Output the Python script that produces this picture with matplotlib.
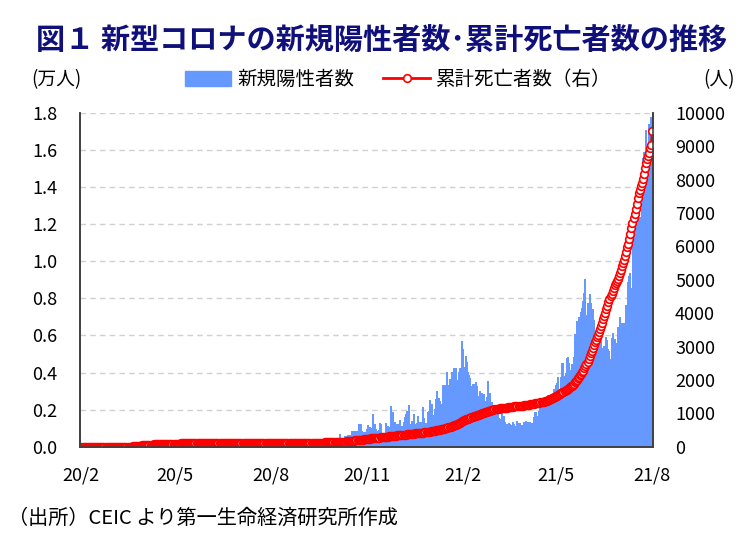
import numpy as np
import pandas as pd
import matplotlib
matplotlib.use('Agg')
import matplotlib.pyplot as plt
from matplotlib.patches import Patch
from matplotlib.lines import Line2D

plt.rcParams['font.family'] = ['Noto Sans CJK JP', 'DejaVu Sans']

# daily new positive cases (persons), one row per month, from 2020-02-01
cases_2020 = [
    0, 0, 0, 1, 2, 2, 0, 1, 2, 0, 0, 0, 0, 0, 0, 3, 0, 0, 0, 0, 0, 0, 0, 0, 0, 0, 0, 1, 2,
    4, 0, 7, 14, 5, 28, 0, 10, 18, 32, 20, 20, 41, 83, 190, 125, 120, 110, 130, 117, 153, 123, 212, 106, 172, 235, 130, 159, 150, 140, 142,
    142, 208, 217, 217, 179, 131, 170, 156, 109, 118, 184, 153, 134, 170, 85, 110, 69, 54, 84, 36, 57, 50, 71, 88, 51, 40, 38, 31, 94, 57,
    69, 105, 122, 55, 30, 45, 39, 68, 67, 54, 67, 70, 37, 40, 36, 17, 22, 47, 37, 31, 50, 78, 48, 60, 172, 187, 15, 10, 103, 30, 38,
    57, 20, 93, 277, 19, 37, 19, 7, 8, 2, 31, 6, 33, 3, 5, 41, 8, 11, 11, 20, 6, 15, 9, 3, 6, 4, 2, 4, 1, 3,
    2, 4, 10, 5, 7, 4, 8, 13, 2, 7, 8, 3, 8, 12, 8, 10, 6, 15, 11, 8, 23, 15, 14, 15, 23, 20, 7, 18, 17, 16, 2,
    8, 6, 17, 13, 7, 17, 15, 10, 6, 4, 7, 9, 12, 10, 20, 6, 13, 9, 2, 3, 3, 13, 14, 7, 5, 10, 11, 12, 5, 7, 5,
    6, 4, 5, 11, 13, 13, 62, 100, 182, 8, 12, 16, 15, 13, 21, 17, 20, 21, 52, 33, 57, 82, 147, 71, 111, 82, 115, 150, 101, 89,
    260, 287, 317, 293, 432, 691, 489, 374, 354, 374, 563, 561, 660, 629, 589, 629, 869, 871, 865, 862, 732, 847, 710, 1228, 823, 1240, 835, 801, 649, 799, 659,
    957, 1168, 1054, 1032, 1009, 1755, 1168, 1240, 972, 869, 822, 919, 1304, 1208, 659, 650, 660, 758, 1290, 1041, 1109, 848, 1096, 2188, 1884, 1032, 1315, 1210, 980, 1212,
    851, 1472, 1141, 1141, 1123, 1335, 1600, 1772, 1937, 1240, 2234, 1219, 1229, 1371, 1290, 1772, 1220, 1295, 1685, 1340, 1349, 1335, 1316, 2154, 1581, 1310, 1196, 1289, 1870, 1916, 2525,
]
cases_2021 = [
    2068, 2295, 1704, 1741, 2027, 2593, 3027, 2643, 2451, 2296, 2232, 3309, 2985, 3337, 2985, 4029, 3346, 3170, 3631, 3048, 4008, 3170, 4275, 3346, 4275, 3585, 3585, 4029, 4275, 5728, 5298,
    4214, 4284, 4873, 4571, 4010, 3847, 3731, 3100, 3288, 3397, 3384, 3318, 3499, 3297, 2764, 2176, 3000, 2712, 2903, 2835, 2461, 2468, 2712, 3545, 2084, 2888, 2364, 2437,
    1828, 1555, 1745, 2063, 1919, 2154, 1575, 1529, 1510, 1894, 1671, 1680, 1340, 1208, 1219, 1294, 1213, 1199, 1063, 1349, 1242, 1116, 1110, 1393, 1167, 1292, 1293, 1103, 1156, 1154, 1354,
    1208, 1387, 1326, 1239, 1349, 1291, 1156, 1306, 1605, 1854, 1889, 1682, 1510, 1952, 2148, 2053, 2331, 2340, 2078, 2341, 2488, 2427, 2776, 2541, 2668, 2668, 2776, 3142, 2881, 3332,
    3418, 3788, 2500, 3120, 3744, 4498, 4519, 3551, 3807, 3973, 4765, 4855, 4519, 4113, 4140, 4446, 3190, 4865, 6075, 6806, 6320, 6976, 6509, 7289, 7478, 7857, 8290, 9020, 6999, 7105, 7748,
    7703, 8209, 7748, 7452, 7452, 6824, 5271, 5566, 6239, 5671, 5671, 5793, 5304, 4949, 5419, 5150, 5911, 5737, 5293, 5174, 4611, 4743, 5841, 6144, 5812, 5803, 5586, 4968, 6437, 6276,
    6982, 6658, 6045, 6658, 6387, 7654, 7097, 8868, 9180, 9353, 8574, 8574, 11079, 11618, 13215, 12541, 12528, 12366, 10972, 12366, 11985, 13034, 15573, 15902, 17045, 14516, 16117, 17405, 17170, 17786, 17786,
    17900,
]

# daily deaths (persons), same dates
deaths_2020 = [
    0, 0, 0, 0, 0, 0, 0, 0, 0, 0, 0, 0, 0, 0, 0, 0, 0, 0, 0, 0, 0, 0, 0, 0, 0, 0, 0, 0, 0,
    0, 0, 0, 0, 0, 0, 0, 0, 0, 0, 0, 0, 0, 0, 0, 0, 2, 0, 1, 1, 2, 6, 4, 1, 3, 3, 3, 4, 3, 3, 7,
    2, 4, 3, 4, 3, 1, 3, 3, 2, 3, 2, 2, 2, 1, 1, 2, 2, 1, 2, 3, 2, 1, 1, 1, 1, 1, 0, 2, 0, 1,
    1, 0, 0, 0, 0, 0, 2, 1, 0, 1, 0, 1, 1, 0, 0, 0, 1, 0, 0, 0, 1, 1, 0, 0, 1, 0, 0, 0, 0, 2, 0,
    3, 0, 1, 0, 0, 0, 0, 1, 0, 0, 0, 0, 1, 0, 0, 0, 0, 0, 0, 0, 0, 1, 0, 0, 0, 0, 0, 0, 0, 0,
    1, 0, 0, 0, 0, 0, 0, 0, 1, 0, 0, 0, 1, 0, 0, 0, 0, 0, 0, 0, 0, 1, 0, 0, 0, 0, 0, 0, 0, 1, 0,
    0, 1, 0, 0, 0, 0, 0, 0, 0, 0, 1, 0, 0, 0, 1, 0, 0, 0, 0, 0, 0, 0, 0, 0, 1, 0, 0, 0, 0, 0, 0,
    0, 0, 0, 0, 0, 0, 0, 0, 0, 1, 0, 0, 0, 0, 0, 0, 0, 0, 0, 0, 2, 1, 1, 1, 0, 1, 0, 1, 1, 1,
    0, 0, 0, 0, 1, 4, 1, 3, 4, 4, 1, 2, 5, 4, 3, 3, 3, 4, 3, 7, 2, 5, 2, 5, 2, 5, 6, 3, 4, 7, 7,
    5, 3, 3, 2, 6, 3, 2, 4, 3, 4, 3, 3, 2, 3, 3, 3, 4, 5, 3, 2, 5, 3, 5, 4, 4, 3, 4, 4, 4, 4,
    3, 4, 3, 3, 4, 3, 3, 3, 4, 3, 4, 3, 3, 3, 3, 4, 4, 3, 3, 4, 3, 3, 3, 5, 4, 4, 3, 3, 5, 5, 5,
]
deaths_2021 = [
    7, 8, 5, 5, 6, 8, 6, 6, 6, 5, 6, 8, 8, 10, 6, 8, 10, 10, 12, 10, 10, 14, 13, 11, 12, 13, 18, 16, 18, 16, 18,
    14, 14, 17, 14, 11, 16, 12, 11, 12, 14, 13, 15, 12, 10, 13, 7, 14, 11, 16, 12, 5, 10, 9, 12, 10, 11, 9, 11,
    8, 9, 6, 8, 7, 4, 5, 5, 4, 4, 4, 5, 3, 2, 4, 5, 5, 7, 5, 2, 5, 5, 1, 8, 5, 6, 3, 2, 1, 2, 6,
    3, 6, 4, 6, 4, 7, 3, 5, 2, 9, 7, 3, 11, 6, 6, 9, 5, 6, 6, 7, 11, 10, 13, 11, 15, 15, 17, 14, 15, 15,
    18, 20, 15, 20, 20, 21, 25, 17, 20, 22, 17, 26, 23, 24, 30, 20, 28, 34, 38, 36, 38, 48, 44, 40, 48, 50, 46, 70, 65, 60, 58,
    90, 85, 88, 76, 82, 86, 84, 75, 79, 76, 76, 83, 92, 114, 105, 98, 91, 104, 109, 102, 85, 87, 80, 78, 103, 77, 61, 63, 73, 77,
    96, 94, 99, 98, 103, 118, 122, 126, 114, 121, 170, 160, 171, 128, 140, 132, 160, 173, 167, 92, 108, 95, 105, 160, 175, 165, 104, 92, 104, 126, 114,
    394,
]

tick_dates = ['2020-02-01', '2020-05-01', '2020-08-01', '2020-11-01', '2021-02-01', '2021-05-01', '2021-08-01']
tick_labels = ['20/2', '20/5', '20/8', '20/11', '21/2', '21/5', '21/8']

cases = np.array(cases_2020 + cases_2021) / 10000   # 万人
cum_deaths = np.cumsum(deaths_2020 + deaths_2021)
dates = pd.date_range('2020-02-01', periods=len(cases), freq='D')

BLUE = '#6699ff'
RED = '#ff0000'
DARK = '#404040'

fig = plt.figure(figsize=(7.47, 5.47), dpi=100)
ax = fig.add_axes([0.107, 0.183, 0.767, 0.611])
ax2 = ax.twinx()

ax.bar(dates, cases, width=1.0, color=BLUE, edgecolor=BLUE, linewidth=0.5,
       antialiased=False, zorder=2)
ax2.plot(dates, cum_deaths, color=RED, lw=2, marker='o', ms=5.5,
         mfc='white', mec=RED, mew=1.2)

ax.set_xlim(pd.Timestamp('2020-01-31 12:00'), pd.Timestamp('2021-08-01 12:00'))
ax.set_ylim(0, 1.8)
ax2.set_ylim(0, 10000)
ax.set_yticks(np.arange(0, 1.81, 0.2))
ax.set_yticklabels([f'{v:.1f}' for v in np.arange(0, 1.81, 0.2)])
ax2.set_yticks(range(0, 10001, 1000))

ax.set_xticks(pd.to_datetime(tick_dates))
ax.set_xticklabels(tick_labels)

ax.set_axisbelow(True)
ax.yaxis.grid(True, color='#d0d0d0', linestyle=(0, (4, 3)), linewidth=1)

for a in (ax, ax2):
    a.spines['top'].set_visible(False)
    for s in ('left', 'right', 'bottom'):
        a.spines[s].set_color(DARK)
        a.spines[s].set_linewidth(1.2)
ax.tick_params(axis='y', length=0, pad=16, labelsize=13)
ax2.tick_params(axis='y', length=0, pad=16, labelsize=13)
ax.tick_params(axis='x', direction='in', length=5, width=1.2, color=DARK, pad=14, labelsize=13)

fig.text(0.511, 0.927, '図１ 新型コロナの新規陽性者数･累計死亡者数の推移',
         ha='center', va='center', fontsize=21, fontweight='bold', color='#10107a')
fig.text(0.075, 0.854, '(万人)', ha='center', va='center', fontsize=13.5)
fig.text(0.963, 0.854, '(人)', ha='center', va='center', fontsize=13.5)
fig.text(0.011, 0.052, '（出所）CEIC より第一生命経済研究所作成', ha='left', va='center', fontsize=14.5)

handles = [Patch(color=BLUE),
           Line2D([], [], color=RED, lw=2, marker='o', ms=5.5, mfc='white', mec=RED, mew=1.2)]
fig.legend(handles, ['新規陽性者数', '累計死亡者数（右）'], loc='center',
           bbox_to_anchor=(0.533, 0.854), ncol=2, frameon=False, fontsize=14,
           handlelength=2.4, handletextpad=0.3, columnspacing=1.5, handleheight=0.8)

fig.savefig('out.png', dpi=100)
